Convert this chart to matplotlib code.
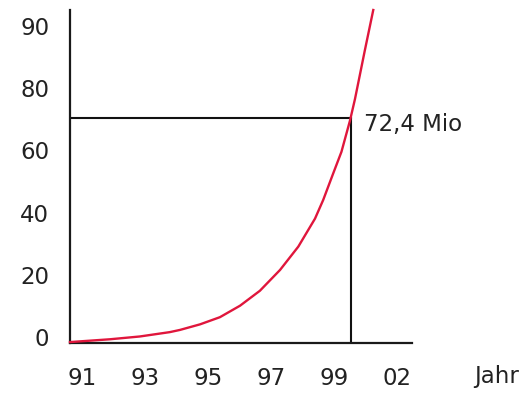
import matplotlib
matplotlib.use("Agg")
import matplotlib.pyplot as plt
from matplotlib.transforms import ScaledTranslation

# Data
years = [90.62, 91.89, 92.84, 93.79, 94.11, 94.75, 95.38, 96.02, 96.65, 97.29, 97.87,
         98.40, 98.66, 98.98, 99.24, 99.51, 99.67, 99.83, 99.98, 100.25]
values = [0.3, 1.2, 2.1, 3.5, 4.2, 6.0, 8.3, 12.0, 16.8, 23.5, 31.0,
          40.0, 46.0, 54.6, 61.5, 71.5, 78.5, 86.5, 94.0, 107.1]
marker_year = 99.55
marker_value = 72.4
marker_label = "72,4 Mio"
x_ticks = [91, 93, 95, 97, 99, 101]
x_ticklabels = ["91", "93", "95", "97", "99", "02"]
y_ticks = [0, 20, 40, 60, 80, 100]
y_ticklabels = ["0", "20", "40", "60", "80", "90"]
x_label = "Jahr"

W, H = 529, 394
fig = plt.figure(figsize=(W / 100, H / 100), dpi=100)
ax = fig.add_axes([70 / W, (H - 343) / H, (412 - 70) / W, (343 - 10) / H])

txt_color = "#222222"
ax.set_xlim(90.62, 101.48)
ax.set_ylim(0, 107.1)

# reference lines
ax.plot([ax.get_xlim()[0], marker_year], [marker_value, marker_value], color="#111111", lw=1.5, zorder=2)
ax.plot([marker_year, marker_year], [0, marker_value], color="#111111", lw=1.5, zorder=2)

# curve
ax.plot(years, values, color="#e0163c", lw=1.7, zorder=3, clip_on=False, solid_joinstyle="round")

ax.annotate(marker_label, xy=(marker_year, marker_value), xytext=(9.5, -5), textcoords="offset points",
            ha="left", va="center", fontsize=16.5, color=txt_color)

for s in ["top", "right"]:
    ax.spines[s].set_visible(False)
for s in ["left", "bottom"]:
    ax.spines[s].set_linewidth(1.6)
    ax.spines[s].set_color("#1a1a1a")

ax.set_xticks(x_ticks)
ax.set_xticklabels(x_ticklabels)
ax.set_yticks(y_ticks)
ax.set_yticklabels(y_ticklabels)
ax.tick_params(axis="both", length=0, labelsize=16.5, labelcolor=txt_color)
ax.tick_params(axis="x", pad=17)
ax.tick_params(axis="y", pad=15)

off = ScaledTranslation(0, 0.06, fig.dpi_scale_trans)
for lab in ax.get_yticklabels():
    lab.set_transform(lab.get_transform() + off)

fig.text(497 / W, 1 - 377 / H, x_label, ha="center", va="center", fontsize=16.5, color=txt_color)

fig.savefig("out.png", dpi=100)
